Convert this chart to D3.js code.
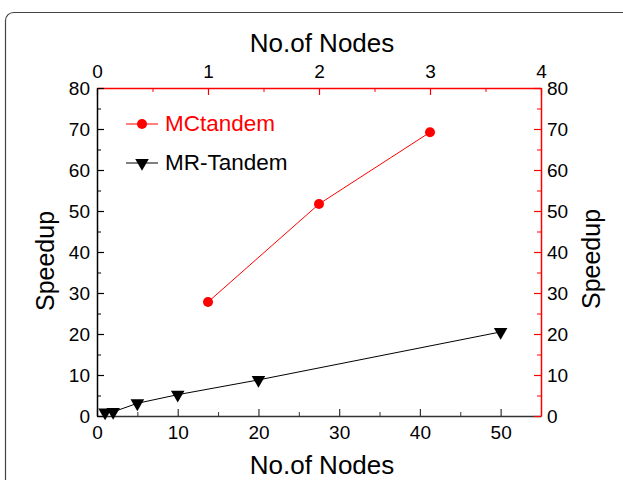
<!DOCTYPE html>
<html>
<head>
<meta charset="utf-8">
<script src="https://cdn.jsdelivr.net/npm/d3@7"></script>
<style>
  body { margin: 0; background: #fff; }
  svg text { font-family: "Liberation Sans", Arial, sans-serif; }
</style>
</head>
<body>
<div id="chart"></div>
<script>
// data
var mcNodes = [1, 2, 3];
var mcSpeedup = [27.8, 51.7, 69.2];
var mrNodes = [1, 2, 5, 10, 20, 50];
var mrSpeedup = [0.9, 1.0, 3.1, 5.2, 8.8, 20.5];
var bottomTicks = [0, 10, 20, 30, 40, 50];
var topTicks = [0, 1, 2, 3, 4];
var yTicks = [0, 10, 20, 30, 40, 50, 60, 70, 80];

var svgWidth = 623;
var svgHeight = 480;
var margin = { top: 88, left: 97, right: 82, bottom: 64 };
var chartWidth = svgWidth - margin.left - margin.right;
var chartHeight = svgHeight - margin.top - margin.bottom;

var svg = d3.select("#chart")
    .append("svg")
    .attr("width", svgWidth)
    .attr("height", svgHeight);

// frame around the figure (runs off the page on right and bottom)
svg.append("rect")
    .attr("x", 5.5).attr("y", 12.5)
    .attr("width", 660).attr("height", 520)
    .attr("rx", 8)
    .attr("fill", "none")
    .attr("stroke", "#444")
    .attr("stroke-width", 1.2);

var xBottom = d3.scaleLinear().domain([0, 55]).range([0, chartWidth]);
var xTop = d3.scaleLinear().domain([0, 4]).range([0, chartWidth]);
var yScale = d3.scaleLinear().domain([0, 80]).range([chartHeight, 0]);

var g = svg.append("g")
    .attr("transform", `translate(${margin.left}, ${margin.top})`);

function styleAxis(sel, color, fontSize) {
    sel.select(".domain").attr("stroke", color).attr("stroke-width", 1.5);
    sel.selectAll(".tick line").attr("stroke", color).attr("stroke-width", 1.2);
    sel.selectAll(".tick text").attr("fill", "#000").style("font-size", fontSize + "px");
}

// minor ticks
g.append("g")
    .attr("transform", `translate(0, ${chartHeight})`)
    .call(d3.axisBottom(xBottom).tickValues(d3.range(5, 55, 10)).tickSize(-4).tickFormat(""))
    .call(s => { s.select(".domain").remove(); s.selectAll("line").attr("stroke", "#333"); });
g.append("g")
    .call(d3.axisTop(xTop).tickValues([0.5, 1.5, 2.5, 3.5]).tickSize(-4).tickFormat(""))
    .call(s => { s.select(".domain").remove(); s.selectAll("line").attr("stroke", "red"); });
g.append("g")
    .call(d3.axisLeft(yScale).tickValues(d3.range(5, 80, 10)).tickSize(-4).tickFormat(""))
    .call(s => { s.select(".domain").remove(); s.selectAll("line").attr("stroke", "#000"); });
g.append("g")
    .attr("transform", `translate(${chartWidth}, 0)`)
    .call(d3.axisRight(yScale).tickValues(d3.range(5, 80, 10)).tickSize(-4).tickFormat(""))
    .call(s => { s.select(".domain").remove(); s.selectAll("line").attr("stroke", "red"); });

// major axes, ticks pointing inward
g.append("g")
    .attr("transform", `translate(0, ${chartHeight})`)
    .call(d3.axisBottom(xBottom).tickValues(bottomTicks).tickFormat(d3.format("d")).tickSizeInner(-7).tickSizeOuter(0).tickPadding(10))
    .call(s => styleAxis(s, "#333", 19));

g.append("g")
    .call(d3.axisTop(xTop).tickValues(topTicks).tickFormat(d3.format("d")).tickSizeInner(-7).tickSizeOuter(0).tickPadding(10))
    .call(s => styleAxis(s, "red", 19));

g.append("g")
    .call(d3.axisLeft(yScale).tickValues(yTicks).tickFormat(d3.format("d")).tickSizeInner(-7).tickSizeOuter(0).tickPadding(7))
    .call(s => styleAxis(s, "#000", 19));

g.append("g")
    .attr("transform", `translate(${chartWidth}, 0)`)
    .call(d3.axisRight(yScale).tickValues(yTicks).tickFormat(d3.format("d")).tickSizeInner(-7).tickSizeOuter(0).tickPadding(6))
    .call(s => styleAxis(s, "red", 19));

// axis titles
svg.append("text")
    .attr("x", 322).attr("y", 52)
    .attr("text-anchor", "middle")
    .style("font-size", "26px")
    .text("No.of Nodes");
svg.append("text")
    .attr("x", 322).attr("y", 474)
    .attr("text-anchor", "middle")
    .style("font-size", "26px")
    .text("No.of Nodes");
svg.append("text")
    .attr("transform", "translate(54, 261) rotate(-90)")
    .attr("text-anchor", "middle")
    .style("font-size", "25px")
    .text("Speedup");
svg.append("text")
    .attr("transform", "translate(600, 259) rotate(-90)")
    .attr("text-anchor", "middle")
    .style("font-size", "25px")
    .text("Speedup");

// MCtandem series (top axis)
var mcData = mcNodes.map((n, i) => ({ x: n, y: mcSpeedup[i] }));
g.append("path")
    .datum(mcData)
    .attr("fill", "none")
    .attr("stroke", "red")
    .attr("stroke-width", 1)
    .attr("d", d3.line().x(d => xTop(d.x)).y(d => yScale(d.y)));
g.selectAll(".mc")
    .data(mcData)
    .enter()
    .append("circle")
    .attr("class", "mc")
    .attr("cx", d => xTop(d.x))
    .attr("cy", d => yScale(d.y))
    .attr("r", 5)
    .attr("fill", "red");

// MR-Tandem series (bottom axis)
var mrData = mrNodes.map((n, i) => ({ x: n, y: mrSpeedup[i] }));
var downTri = d3.symbol().type(d3.symbolTriangle).size(80);
g.append("path")
    .datum(mrData)
    .attr("fill", "none")
    .attr("stroke", "#000")
    .attr("stroke-width", 1)
    .attr("d", d3.line().x(d => xBottom(d.x)).y(d => yScale(d.y)));
g.selectAll(".mr")
    .data(mrData)
    .enter()
    .append("path")
    .attr("class", "mr")
    .attr("d", downTri)
    .attr("transform", d => `translate(${xBottom(d.x)}, ${yScale(d.y)}) rotate(180)`)
    .attr("fill", "#000");

// legend
var legend = svg.append("g");
legend.append("line")
    .attr("x1", 126).attr("x2", 158).attr("y1", 124).attr("y2", 124)
    .attr("stroke", "red");
legend.append("circle")
    .attr("cx", 142).attr("cy", 124).attr("r", 5).attr("fill", "red");
legend.append("text")
    .attr("x", 165).attr("y", 131)
    .style("font-size", "22.5px")
    .attr("fill", "red")
    .text("MCtandem");
legend.append("line")
    .attr("x1", 126).attr("x2", 158).attr("y1", 163).attr("y2", 163)
    .attr("stroke", "#000");
legend.append("path")
    .attr("d", downTri)
    .attr("transform", "translate(142, 163) rotate(180)")
    .attr("fill", "#000");
legend.append("text")
    .attr("x", 165).attr("y", 170)
    .style("font-size", "22.5px")
    .attr("fill", "#000")
    .text("MR-Tandem");
</script>
</body>
</html>
